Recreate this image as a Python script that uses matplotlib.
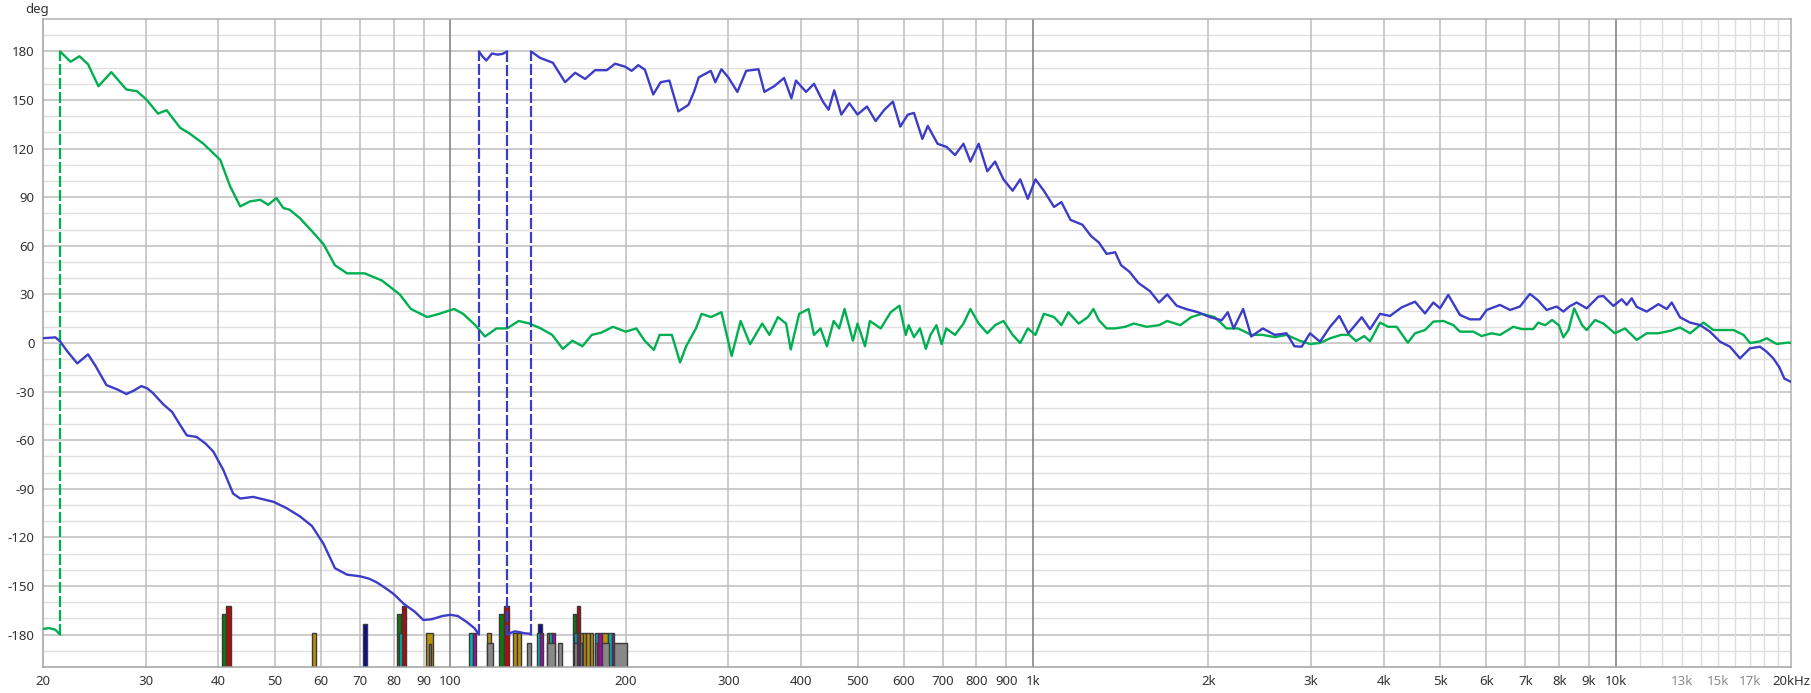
import numpy as np
import matplotlib
matplotlib.use("Agg")
import matplotlib.pyplot as plt
from matplotlib.ticker import FixedLocator, NullFormatter

plt.rcParams['font.family'] = ['Noto Sans', 'DejaVu Sans']

# ---------------- data ----------------
blue_freq = [20, 20.5, 21.0, 21.4, 22.0, 22.9, 23.9, 24.6, 25.7, 26.8, 27.8, 28.6, 29.5, 30.2, 30.9,
             32.2, 33.3, 34.3, 35.3, 36.7, 38.0, 39.2, 40.8, 42.4, 43.6, 45.9, 49.7, 52.4, 55.2, 57.9,
             60.6, 63.4, 66.5, 70.0, 72.6, 75.0, 77.9, 80.0, 83.2, 87.0, 89.9, 93.0, 97.0, 100.0, 103.0,
             106.8, 110.0, 112.0,
             112.0, 113.5, 115.3, 117.9, 120.6, 123.0, 125.2,
             125.2, 126.9, 129.0, 131.6, 134.1, 136.5, 137.6,
             137.6, 142.6, 150, 157.4, 163.8, 170.4, 177.2, 185.6, 191.8, 199.5, 204.8, 210.2, 215.8,
             223, 229.7, 237.7, 246.3, 256.3, 262, 267, 280, 285, 292, 300, 311, 322, 338, 346, 360,
             374, 385, 392, 408, 421, 436, 446, 456, 469, 484, 500, 519, 537, 556, 575, 592, 610, 625,
             646, 660, 686, 711, 735, 760, 781, 807, 835, 861, 890, 923, 951, 980, 1010, 1044, 1087,
             1119, 1160, 1216, 1258, 1298, 1338, 1384, 1417, 1464, 1518, 1588, 1646, 1700, 1765, 1830,
             1919, 2011, 2108, 2160, 2210, 2295, 2370, 2480, 2600, 2724, 2810, 2892, 2989, 3110, 3236,
             3356, 3478, 3667, 3789, 3942, 4100, 4294, 4526, 4708, 4866, 4996, 5162, 5406, 5624, 5850,
             6008, 6334, 6589, 6852, 7128, 7366, 7614, 7922, 8134, 8328, 8574, 8920, 9340, 9528, 9912,
             10244, 10448, 10658, 10870, 11308, 11842, 12238, 12484, 12898, 13420, 13960, 14522, 15108,
             15716, 16350, 17008, 17692, 18166, 18652, 19100, 19486, 20000]
blue_deg = [3, 3.2, 3.5, 1, -5, -12.6, -7, -14, -26, -28.6, -31.5, -29.5, -26.6, -28, -31,
            -38, -42.5, -50, -57, -58, -62, -67, -78.5, -93, -96, -95, -98, -102, -107, -113,
            -124, -139, -143, -144, -145.5, -148, -152, -155, -161, -166, -171, -170.5, -168.5, -167.8, -168.5,
            -172.3, -176, -180,
            180, 177, 174.4, 178.7, 178, 178.5, 180,
            -180, -179, -178, -178.5, -179.2, -179.4, -180,
            180, 176, 173, 161, 166.8, 163, 168.4, 168.4, 172.4, 170.6, 168, 171.5, 168.7,
            153.4, 161, 162, 143, 147, 155, 164, 168, 161, 169, 164, 155, 168, 169, 155, 158.6,
            163.6, 151, 162, 155, 160, 149, 144, 156, 141, 148, 141, 146, 137, 144, 149, 133.6, 141, 142,
            126, 134, 123, 121, 116, 123, 112, 123, 106, 112, 101, 94, 101, 89, 101, 94, 84,
            87, 76, 73, 66, 62, 55, 56, 48, 44, 37, 32, 25, 30, 23, 21,
            19, 16, 14, 19, 9, 21, 4, 9, 5, 6, -2, -2.3, 6, 0.8, 10,
            16.7, 6, 15.9, 8.5, 18, 16.7, 22, 25.5, 18.3, 25, 21.4, 29.7, 17.3, 14.6, 14.6,
            20.4, 23.5, 20.4, 22.5, 30.3, 26.2, 20.4, 22.5, 19.4, 22.5, 25, 21.4, 28.6, 29, 22.9,
            27, 23.5, 27.6, 22.3, 19.4, 24, 21, 25, 15.9, 12.6, 11.1, 7, 0.8,
            -2.3, -9.5, -3.3, -2.3, -5.4, -9.5, -15, -22, -24]

green_freq = [20, 20.5, 21.0, 21.4,
              21.4, 22.3, 23.1, 23.9, 24.9, 26.2, 27.8, 29.0, 30.1, 31.5, 32.6, 34.4, 35.7, 37.7, 40.3,
              41.9, 43.6, 45.3, 47.2, 48.7, 50.3, 51.7, 53.0, 55.2, 57.9, 60.6, 63.4, 66.5, 71.3, 76.3,
              81.9, 85.6, 91.3, 95.7, 101.5, 105.2, 110.4, 114.7, 120, 125.2, 131, 136.8, 143, 149.6,
              156, 162, 168.6, 174.9, 181.6, 190.2, 200, 208.6, 215.6, 223.6, 228.7, 240, 248, 254,
              264, 270, 280, 292, 304, 315, 327, 343, 353, 365, 377, 384, 397, 402, 412, 421, 432, 443,
              455, 465, 475, 491, 500, 515, 525, 548, 570, 590, 605, 612, 625, 640, 655, 667, 683, 697,
              710, 735, 760, 781, 807, 835, 861, 890, 923, 951, 980, 1010, 1044, 1087, 1119, 1150,
              1198, 1243, 1270, 1298, 1338, 1384, 1440, 1490, 1568, 1646, 1700, 1790, 1870, 1950,
              2050, 2150, 2250, 2370, 2480, 2600, 2724, 2870, 2989, 3110, 3236, 3380, 3492, 3584,
              3704, 3789, 3942, 4070, 4210, 4400, 4526, 4708, 4866, 5064, 5268, 5406, 5700, 5890,
              6124, 6334, 6674, 6900, 7220, 7366, 7570, 7780, 7990, 8134, 8300, 8490, 8760, 8920,
              9220, 9528, 9970, 10380, 10870, 11308, 11842, 12440, 12898, 13420, 14150, 14720, 15300,
              15930, 16580, 17008, 17692, 18166, 18900, 19800, 20000]
green_deg = [-176.5, -176, -177, -180,
             180, 173.6, 177, 172, 158.5, 167.2, 156.5, 155.4, 150.3, 141.6, 143.7, 132.8, 129.3, 123, 113,
             96.7, 84.3, 87.4, 88.4, 85.3, 89.5, 83.3, 82.3, 77, 69, 61, 48, 43, 43, 38.6,
             30, 21, 16, 18, 21, 18, 11, 4, 9, 9, 13.6, 12, 9, 5,
             -3.6, 1.4, -2, 5, 6.4, 10, 7, 9, 1.4, -4.3, 5, 5, -12, -2,
             9, 18, 16, 19, -8, 13.6, -0.7, 12, 5, 16, 12, -4, 18, 19, 21, 5, 9, -2,
             13.6, 9, 21, 1.4, 12, -2, 13.6, 9, 19, 23, 5, 11, 3.6, 9, -3.6, 5, 11, -0.7,
             9, 5, 12, 21, 12, 6, 11, 13.6, 5, 0, 9, 5, 18, 16, 11, 19,
             12, 16, 21, 14, 9, 9, 10, 12, 10, 11, 13.6, 11, 16, 18,
             16, 9, 9, 5, 5, 3.6, 5, 1.4, -0.6, 0, 2.9, 5, 5, 1.2,
             4.3, 1, 12.6, 10, 10, 0.2, 6, 8, 13.2, 13.6, 11, 7, 7, 4.3,
             6, 5, 10, 8.6, 8.6, 12.6, 11, 14.2, 11, 3.5, 8, 21.4, 11, 8,
             14.2, 12, 6, 9, 1.9, 6, 6, 7.6, 9.6, 6, 12.6, 8, 8,
             8, 5, 0, 1, 2.9, -0.6, 0.3, 0]

# mode bars: left/right frequency edge, top (deg), colour key
bar_left = [40.6, 41.25, 81.1, 82.6, 121.4, 123.7, 162.1, 164.8, 70.96, 141.6,
            57.96, 81.6, 91.0, 107.8, 109.2, 115.8, 128.3, 130.2, 140.9, 142.5, 146.7, 147.8, 149.2,
            163.3, 165.2, 167.3, 169.3, 171.1, 173.4, 177.2, 179.5, 181.9, 186.7, 189.2,
            91.8, 115.6, 135.4, 146.7, 153.2, 163.3, 167.3, 177.2, 181.9, 191.1]
bar_right = [41.25, 41.96, 82.4, 83.9, 123.7, 125.9, 164.3, 167.3, 72.1, 143.9,
             58.9, 82.5, 93.4, 109.2, 110.5, 117.5, 130.2, 132.2, 142.5, 144.4, 147.8, 149.2, 151.0,
             165.2, 166.3, 169.3, 171.1, 173.4, 175.7, 179.5, 181.9, 186.7, 189.2, 191.1,
             92.6, 118.2, 137.5, 151.0, 155.5, 165.2, 168.6, 178.5, 187.5, 200.8]
bar_top = [-167, -162.6, -167, -162.6, -167, -162.6, -167, -162.6, -173.4, -173.4,
           -179, -179, -179, -179, -179, -179, -179, -179, -179, -179, -179, -179, -179,
           -179, -179, -179, -179, -179, -179, -179, -179, -179, -179, -179,
           -185.7, -185.3, -185.3, -185.3, -185.3, -185.3, -185.3, -185.3, -185.3, -185.3]
bar_kind = ['g', 'r', 'g', 'r', 'g', 'r', 'g', 'r', 'b', 'b',
            'y', 'c', 'y', 'c', 'm', 'y', 'y', 'y', 'c', 'm', 'y', 'c', 'm',
            'c', 'm', 'y', 'y', 'y', 'y', 'c', 'm', 'y', 'c', 'm',
            'k', 'k', 'k', 'k', 'k', 'k', 'k', 'k', 'k', 'k']

x_ticks = [20, 30, 40, 50, 60, 70, 80, 90, 100, 200, 300, 400, 500, 600, 700, 800, 900,
           1000, 2000, 3000, 4000, 5000, 6000, 7000, 8000, 9000, 10000, 13000, 15000, 17000, 20000]
x_labels = ['20', '30', '40', '50', '60', '70', '80', '90', '100', '200', '300', '400', '500', '600',
            '700', '800', '900', '1k', '2k', '3k', '4k', '5k', '6k', '7k', '8k', '9k', '10k',
            '13k', '15k', '17k', '20kHz']
x_light = [11000, 12000, 13000, 14000, 15000, 16000, 17000, 18000, 19000]
x_dark = [100, 1000, 10000]
y_ticks = list(range(-180, 181, 30))

# ---------------- style ----------------
BLUE = '#3c3cc8'
GREEN = '#00b050'
bar_colors = {'g': '#0e7a0e', 'r': '#b40a0a', 'b': '#0a0aa0', 'y': '#b8900a',
              'c': '#00b4b4', 'm': '#b400b4', 'k': '#888888'}

W, H = 1811, 693
fig = plt.figure(figsize=(W / 100, H / 100), dpi=100)
ax = fig.add_axes([43 / W, 1 - 667 / H, (1791 - 43) / W, (667 - 19) / H])
ax.set_xscale('log')
ax.set_xlim(20, 20000)
ax.set_ylim(-200, 200)

# grid
for yv in range(-190, 200, 10):
    major = (yv % 30 == 0)
    ax.axhline(yv, color='#bdbdbd' if major else '#e0e0e0', lw=1.1 if major else 1.0, zorder=0.5)
for xv in x_ticks[1:-1]:
    if xv in x_light:
        continue
    ax.axvline(xv, color='#7a7a7a' if xv in x_dark else '#bdbdbd', lw=1.1, zorder=0.6)
for xv in x_light:
    ax.axvline(xv, color='#dedede', lw=1.0, zorder=0.55)

for s in ax.spines.values():
    s.set_color('#b0b0b0')
    s.set_linewidth(1.1)
ax.spines['left'].set_color('#a0a0a0')
ax.spines['bottom'].set_color('#a0a0a0')

ax.xaxis.set_major_locator(FixedLocator(x_ticks))
ax.xaxis.set_minor_locator(FixedLocator([]))
ax.xaxis.set_minor_formatter(NullFormatter())
ax.set_xticklabels(x_labels)
ax.set_yticks(y_ticks)
ax.set_yticklabels([str(v) for v in y_ticks])
ax.tick_params(axis='both', length=0, labelsize=9.5, colors='#333333')
ax.tick_params(axis='x', pad=6)
ax.tick_params(axis='y', pad=6)
for lbl, v in zip(ax.get_xticklabels(), x_ticks):
    if v in (13000, 15000, 17000):
        lbl.set_color('#8a8a8a')

# bars
for l, r, t, k in zip(bar_left, bar_right, bar_top, bar_kind):
    ax.bar(l, t + 200, width=r - l, bottom=-200, align='edge', color=bar_colors[k],
           edgecolor='#3a3a3a', linewidth=1.0, zorder=2)


def draw_wrapped(freq, deg, color):
    f = np.asarray(freq, float)
    d = np.asarray(deg, float)
    jumps = np.where(np.abs(np.diff(d)) > 180)[0]
    start = 0
    for j in list(jumps) + [len(d) - 1]:
        ax.plot(f[start:j + 1], d[start:j + 1], color=color, lw=1.7, zorder=3,
                solid_joinstyle='round', solid_capstyle='round')
        if j < len(d) - 1:
            ax.plot([f[j], f[j + 1]], [d[j], d[j + 1]], color=color, lw=1.6, zorder=3,
                    linestyle=(0, (5, 1.3)))
        start = j + 1


draw_wrapped(green_freq, green_deg, GREEN)
draw_wrapped(blue_freq, blue_deg, BLUE)

fig.text(25 / W, 1 - 10 / H, 'deg', fontsize=9.5, color='#333333', va='center', ha='left')

fig.savefig('out.png', dpi=100, facecolor='white')
